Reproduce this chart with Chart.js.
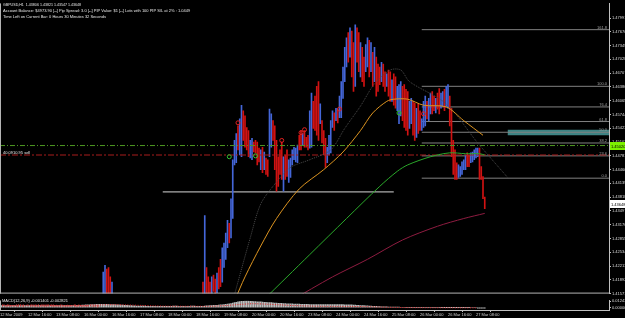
<!DOCTYPE html>
<html>
<head>
<meta charset="utf-8">
<script src="https://cdn.jsdelivr.net/npm/chart.js@4.4.1/dist/chart.umd.min.js"></script>
<style>
  html, body { margin: 0; padding: 0; background: #000; }
  #wrap { position: relative; width: 625px; height: 318px; overflow: hidden; background: #000; }
  #main { position: absolute; left: 0; top: 0; }
  #macd { position: absolute; left: 0; top: 297px; }
</style>
</head>
<body>
<div id="wrap">
  <canvas id="main" width="625" height="297"></canvas>
  <canvas id="macd" width="625" height="21"></canvas>
</div>
<script>
// ---- data ----
const timeLabels = ["12 Mar 2009", "12 Mar 16:00", "13 Mar 08:00", "16 Mar 00:00", "16 Mar 16:00",
  "17 Mar 08:00", "18 Mar 00:00", "18 Mar 16:00", "19 Mar 08:00", "20 Mar 00:00", "20 Mar 16:00",
  "23 Mar 08:00", "24 Mar 00:00", "24 Mar 16:00", "25 Mar 08:00", "26 Mar 00:00", "26 Mar 16:00",
  "27 Mar 08:00"];
const labelStep = 16; // bars between date labels

const priceTicks = [1.41571, 1.41892, 1.42213, 1.42534, 1.42855, 1.43176, 1.43497, 1.43818,
  1.44139, 1.44460, 1.44781, 1.45102, 1.45423, 1.45744, 1.46065, 1.46386, 1.46707, 1.47028,
  1.47349, 1.47670, 1.47991];
const priceMin = 1.41571, priceMax = 1.48332;
const barSlots = 348;

// a few bars of 16 Mar poking up from the bottom
const earlyStart = 59;
const earlyHigh = [1.4207, 1.4223, 1.4214, 1.4218, 1.4196, 1.4184];
const earlyLow  = [1.4120, 1.4130, 1.4140, 1.4135, 1.4140, 1.4145];
const earlyDir  = "uudddu";

// bars from 18 Mar evening to 27 Mar
const mainStart = 116;
const highs = [
  1.4184,1.4339,1.4218,1.4196,1.4184,1.4196,1.4200,1.4191,1.4205,1.4218,
  1.4237,1.4264,1.4275,1.4298,1.4328,1.4321,1.4378,1.4469,1.4514,1.4530,
  1.4548,1.4564,1.4596,1.4583,1.4571,1.4544,1.4537,1.4514,1.4519,1.4510,
  1.4514,1.4510,1.4496,1.4492,1.4498,1.4487,1.4473,1.4469,1.4587,1.4576,
  1.4560,1.4548,1.4514,1.4476,1.4492,1.4510,1.4476,1.4480,1.4492,1.4469,
  1.4473,1.4492,1.4498,1.4496,1.4503,1.4526,1.4537,1.4530,1.4537,1.4521,
  1.4526,1.4583,1.4624,1.4605,1.4617,1.4640,1.4651,1.4599,1.4560,1.4537,
  1.4519,1.4498,1.4526,1.4560,1.4583,1.4578,1.4589,1.4587,1.4617,1.4651,
  1.4685,1.4731,1.4753,1.4765,1.4776,1.4769,1.4742,1.4783,1.4776,1.4765,
  1.4742,1.4731,1.4708,1.4737,1.4753,1.4747,1.4742,1.4719,1.4731,1.4708,
  1.4692,1.4685,1.4696,1.4692,1.4674,1.4669,1.4678,1.4674,1.4655,1.4669,
  1.4662,1.4640,1.4644,1.4651,1.4640,1.4644,1.4633,1.4628,1.4605,1.4612,
  1.4605,1.4601,1.4589,1.4599,1.4583,1.4564,1.4605,1.4617,1.4605,1.4612,
  1.4624,1.4628,1.4617,1.4612,1.4624,1.4635,1.4624,1.4628,1.4633,1.4640,
  1.4644,1.4617,1.4589,1.4514,1.4492,1.4462,1.4457,1.4453,1.4464,1.4469,
  1.4480,1.4485,1.4480,1.4485,1.4487,1.4492,1.4496,1.4496,1.4496,1.4453,
  1.4430,1.4382];
const lows = [
  1.4150,1.4155,1.4155,1.4150,1.4150,1.4155,1.4162,1.4150,1.4159,1.4168,
  1.4173,1.4184,1.4218,1.4237,1.4264,1.4275,1.4287,1.4332,1.4457,1.4462,
  1.4492,1.4480,1.4476,1.4514,1.4498,1.4492,1.4476,1.4473,1.4469,1.4487,
  1.4485,1.4457,1.4464,1.4446,1.4439,1.4446,1.4435,1.4430,1.4476,1.4498,
  1.4514,1.4446,1.4396,1.4407,1.4435,1.4423,1.4396,1.4423,1.4430,1.4416,
  1.4428,1.4457,1.4469,1.4464,1.4462,1.4492,1.4492,1.4503,1.4498,1.4498,
  1.4492,1.4496,1.4498,1.4542,1.4537,1.4526,1.4514,1.4553,1.4508,1.4480,
  1.4451,1.4462,1.4480,1.4485,1.4544,1.4537,1.4560,1.4555,1.4567,1.4567,
  1.4612,1.4651,1.4685,1.4696,1.4708,1.4662,1.4628,1.4640,1.4696,1.4674,
  1.4662,1.4651,1.4640,1.4674,1.4685,1.4662,1.4674,1.4640,1.4651,1.4617,
  1.4628,1.4644,1.4651,1.4640,1.4628,1.4640,1.4617,1.4605,1.4605,1.4596,
  1.4589,1.4583,1.4553,1.4571,1.4560,1.4544,1.4537,1.4526,1.4542,1.4553,
  1.4526,1.4514,1.4521,1.4530,1.4537,1.4537,1.4544,1.4548,1.4564,1.4560,
  1.4576,1.4576,1.4583,1.4578,1.4587,1.4576,1.4589,1.4594,1.4583,1.4594,
  1.4589,1.4548,1.4476,1.4435,1.4423,1.4423,1.4428,1.4430,1.4435,1.4446,
  1.4446,1.4453,1.4453,1.4462,1.4464,1.4469,1.4473,1.4476,1.4423,1.4423,
  1.4378,1.4355];
const barDir =
  "duddduddud" + "duuuuduuuu" + "duudddduud" + "dddududduu" + "dddddduddu" +
  "uuuuuddudd" + "duuddddudd" + "duuuududuu" + "uuududdudd" + "udduududud" +
  "ddudduddud" + "duuudddduu" + "ddudduuudu" + "uddudduudu" + "uddddduuuu" +
  "udduuuuudd" + "dd";

// moving averages (bar index, price)
const maOrangeIdx = [134, 140, 149, 158, 171, 185, 196, 206, 213, 221, 225, 233, 242, 255, 265, 276];
const maOrange = [1.4140, 1.4196, 1.4268, 1.4332, 1.4401, 1.4446, 1.4487, 1.4537, 1.4578, 1.4605,
  1.4610, 1.4610, 1.4596, 1.4592, 1.4560, 1.4526];
const maGreenIdx = [150, 164, 177, 198, 217, 227, 233, 246, 257, 266, 274, 277];
const maGreen = [1.4140, 1.4196, 1.4248, 1.4332, 1.4407, 1.4442, 1.4457, 1.4476, 1.4485, 1.4483,
  1.4483, 1.4480];
const maMaroonIdx = [166, 190, 210, 230, 250, 265, 277];
const maMaroon = [1.4140, 1.4196, 1.4237, 1.4282, 1.4314, 1.4332, 1.4344];
const maGrayIdx = [133, 143, 149, 157, 166, 177, 189, 197, 206, 214, 223, 229, 234, 255, 273, 290];
const maGray = [1.4140, 1.4287, 1.4366, 1.4412, 1.4451, 1.4469, 1.4492, 1.4542, 1.4594, 1.4646,
  1.4678, 1.4678, 1.4651, 1.4599, 1.4508, 1.4428];

// fractal markers
const redMarkIdx = [136, 161, 172, 174, 194, 242];
const redMark = [1.4555, 1.4514, 1.4532, 1.4539, 1.4587, 1.4576];
const greenMarkIdx = [131, 146, 228];
const greenMark = [1.4476, 1.4478, 1.4578];

// horizontal objects
const fibFrom = 241;
const fibNames = ["161.8", "100.0", "76.4", "61.8", "50.0", "38.2", "23.6", "0.0"];
const fibPrices = [1.4772, 1.4640, 1.4592, 1.4558, 1.4533, 1.4508, 1.4478, 1.4426];
const zoneFrom = 290;
const zoneTop = 1.4539, zoneBottom = 1.4526;
const supportFrom = 93, supportTo = 225, supportPrice = 1.4394;
const alertPrice = 1.4502;
const sellPrice = 1.4480;
const bidPrice = 1.43648;

// MACD(12,26,9), in units of 0.0001
const macdHist = [
  38,39,40,41,41,42,42,41,40,40, 41,42,43,43,42,41,40,40,41,42,
  42,43,44,44,43,42,41,41,42,43, 43,42,41,40,40,41,42,42,41,40,
  40,41,42,43,44,45,47,49,51,53, 55,57,59,61,62,63,64,65,65,65,
  64,64,63,62,61,60,58,56,54,52, 50,48,46,44,42,40,38,36,34,33,
  32,31,30,30,29,29,28,28,28,28, 28,28,27,27,28,28,29,29,29,30,
  30,30,29,29,28,28,28,29,29,30, 30,30,29,29,28,28,29,32,36,38,
  40,42,44,46,48,50,53,56,60,64, 69,74,80,88,96,103,109,114,119,122,
  124,124,123,121,119,117,115,113,111,109, 106,104,101,99,97,95,93,90,87,85,
  83,81,79,77,76,75,73,72,70,69, 68,67,66,66,65,64,63,62,61,60,
  60,59,59,58,58,58,58,59,59,60, 60,61,61,60,60,59,58,57,56,55,
  54,53,51,49,47,45,43,41,39,37, 35,33,31,29,27,25,23,21,19,18,
  17,16,15,14,13,12,12,11,11,10, 10,10,9,9,9,8,8,8,8,7,
  7,7,7,6,6,6,6,5,5,5, 5,5,4,4,4,4,3,3,3,3,
  2,2,2,2,2,1,1,1,1,0, 0,0,0,-1,-1,-2,-2,-2];
const signalStep = 8;
const macdSignal = [40, 40, 41, 42, 42, 41, 44, 52, 57, 54, 45, 36, 30, 29, 29, 28, 40, 60, 75, 68,
  55, 42, 33, 28, 26, 25, 22, 15, 8, 4, 2, 1, 0, -1, -1];
const macdTicks = [0.01243, 0];
const macdMin = -0.00414, macdMax = 0.0138;

// ---- build datasets ----
const upColor = "#4466d8", downColor = "#d01212";
const candles = [], candleColors = [];
function addBars(start, hi, lo, dir) {
  hi.forEach((h, k) => {
    candles.push({ x: start + k, y: [lo[k], h] });
    candleColors.push(dir[k] === "u" ? upColor : downColor);
  });
}
addBars(earlyStart, earlyHigh, earlyLow, earlyDir);
addBars(mainStart, highs, lows, barDir);

const pts = (idx, vals) => idx.map((x, k) => ({ x, y: vals[k] }));
const hline = (from, to, p) => [{ x: from, y: p }, { x: to, y: p }];

const line = (data, color, extra) => Object.assign({
  type: "line", data, borderColor: color, borderWidth: 1, pointRadius: 0, tension: 0.3
}, extra || {});
const marks = (data, color) => ({
  type: "line", data, showLine: false, pointRadius: 2, pointBorderWidth: 1,
  pointBorderColor: color, pointBackgroundColor: "rgba(0,0,0,0)"
});

const fibSets = fibPrices.map(p => line(hline(fibFrom, barSlots, p), "#808080", { tension: 0 }));

const tiny = "4px Arial";
const overlay = {
  id: "overlay",
  afterDraw(chart, args, o) {
    const ctx = chart.ctx, a = chart.chartArea, ys = chart.scales.y;
    ctx.save();
    ctx.strokeStyle = "#b4b4b4";
    ctx.lineWidth = 1;
    ctx.beginPath();
    ctx.moveTo(a.left + 0.5, a.top);
    ctx.lineTo(a.left + 0.5, a.bottom);
    if (o.bottomLine) {
      ctx.moveTo(a.left, a.bottom - 0.5);
      ctx.lineTo(a.right, a.bottom - 0.5);
    }
    ctx.stroke();
    ctx.font = tiny;
    (o.texts || []).forEach(t => {
      ctx.fillStyle = t.color || "#e6e6e6";
      ctx.textAlign = "left";
      if (t.w) ctx.fillText(t.text, t.x, t.y, t.w); else ctx.fillText(t.text, t.x, t.y);
    });
    (o.levelTags || []).forEach(t => {
      ctx.fillStyle = "#a0a0a0";
      ctx.textAlign = "right";
      ctx.fillText(t.text, a.right - 2, ys.getPixelForValue(t.price) - 1);
    });
    (o.boxes || []).forEach(b => {
      const py = Math.round(ys.getPixelForValue(b.price));
      ctx.fillStyle = b.bg;
      ctx.fillRect(a.right + 1, py - 4, 16, 8);
      ctx.fillStyle = b.color;
      ctx.textAlign = "left";
      ctx.fillText(b.text, a.right + 2, py + 1.5);
    });
    ctx.restore();
  }
};

new Chart(document.getElementById("main"), {
  type: "bar",
  data: {
    datasets: [
      line(pts(maGreenIdx, maGreen), "#2aa82a"),
      line(pts(maOrangeIdx, maOrange), "#dc9420"),
      line(pts(maMaroonIdx, maMaroon), "#8e1c40"),
      line(pts(maGrayIdx, maGray), "#4a4a4a", { borderDash: [1, 1] }),
      marks(pts(redMarkIdx, redMark), "#e02020"),
      marks(pts(greenMarkIdx, greenMark), "#30c030"),
      line(hline(0, barSlots, alertPrice), "#4e9a22", { borderDash: [5, 2, 1, 2], tension: 0 }),
      line(hline(0, barSlots, sellPrice), "#a81c1c", { borderDash: [6, 2, 2, 2], tension: 0 }),
      { type: "bar", data: candles, backgroundColor: candleColors, barThickness: 1, grouped: false },
      line(hline(supportFrom, supportTo, supportPrice), "#d8d8d8", { tension: 0 }),
      ...fibSets,
      line(hline(zoneFrom, barSlots, zoneTop), "rgba(0,0,0,0)", { tension: 0, fill: "+1", backgroundColor: "#3e8484" }),
      line(hline(zoneFrom, barSlots, zoneBottom), "rgba(0,0,0,0)", { tension: 0 })
    ]
  },
  options: {
    responsive: false,
    animation: false,
    events: [],
    layout: { padding: 0, autoPadding: false },
    plugins: {
      legend: { display: false },
      tooltip: { enabled: false },
      overlay: {
        bottomLine: true,
        texts: [
          { text: "GBPUSD,H1  1.43806 1.43821 1.43547 1.43648", x: 3, y: 5.5, w: 78 },
          { text: "Account Balance: $4973.90 [--] Pip Spread: 3.0 [--] PIP Value: $1 [--] Lots with 100 PIP S/L at 2% : 1.0449", x: 3, y: 11.5, w: 212 },
          { text: "Time Left on Current Bar: 0 Hours 30 Minutes 32 Seconds", x: 3, y: 18, w: 105 },
          { text: "40.0910.95 sell", x: 3, y: 154, w: 28 }
        ],
        levelTags: fibNames.map((n, k) => ({ text: n, price: fibPrices[k] })),
        boxes: [
          { price: alertPrice, text: alertPrice.toFixed(5), bg: "#7cf000", color: "#000" },
          { price: bidPrice, text: bidPrice.toFixed(5), bg: "#ffffff", color: "#000" }
        ]
      }
    },
    scales: {
      x: {
        type: "linear", min: 0, max: barSlots, offset: false, display: false
      },
      y: {
        position: "right", min: priceMin, max: priceMax,
        afterBuildTicks: s => { s.ticks = priceTicks.map(v => ({ value: v })); },
        afterFit: s => { s.width = 16; },
        ticks: { color: "#dcdcdc", font: { size: 4, family: "Arial" }, padding: 1, autoSkip: false,
          callback: v => v.toFixed(5) },
        grid: { drawOnChartArea: false, color: "#c0c0c0", tickLength: 2 },
        border: { color: "#c0c0c0" }
      }
    }
  },
  plugins: [overlay]
});

// ---- MACD sub-window with the time axis ----
new Chart(document.getElementById("macd"), {
  type: "bar",
  data: {
    datasets: [
      line(macdSignal.map((v, k) => ({ x: k * signalStep, y: v / 10000 })), "#e02424",
        { borderDash: [1, 1.5], tension: 0.3 }),
      { type: "bar", data: macdHist.map((v, i) => ({ x: i, y: v / 10000 })),
        backgroundColor: "#bdbdbd", barThickness: 1, grouped: false }
    ]
  },
  options: {
    responsive: false,
    animation: false,
    events: [],
    layout: { padding: 0, autoPadding: false },
    plugins: {
      legend: { display: false },
      tooltip: { enabled: false },
      overlay: {
        texts: [
          { text: "MACD(12,26,9) -0.001401 -0.002821", x: 2, y: 4.5, w: 68 },
          { text: "PriFirm MT4, \u00a9 2004-2008 MetaQuotes Software Corp.", x: 2, y: 9.5, w: 104, color: "#e03a3a" }
        ]
      }
    },
    scales: {
      x: {
        type: "linear", min: 0, max: barSlots, offset: false,
        afterBuildTicks: s => { s.ticks = timeLabels.map((_, k) => ({ value: k * labelStep })); },
        afterFit: s => { s.height = 8; },
        ticks: { color: "#d0d0d0", font: { size: 4, family: "Arial" }, padding: 0, autoSkip: false,
          maxRotation: 0, align: "start", callback: (v, i) => timeLabels[i] },
        grid: { drawOnChartArea: false, color: "#c0c0c0", tickLength: 2 },
        border: { color: "#c0c0c0" }
      },
      y: {
        position: "right", min: macdMin, max: macdMax,
        afterBuildTicks: s => { s.ticks = macdTicks.map(v => ({ value: v })); },
        afterFit: s => { s.width = 16; },
        ticks: { color: "#dcdcdc", font: { size: 4, family: "Arial" }, padding: 1, autoSkip: false,
          callback: v => v.toFixed(5) },
        grid: { drawOnChartArea: false, color: "#c0c0c0", tickLength: 2 },
        border: { color: "#c0c0c0" }
      }
    }
  },
  plugins: [overlay]
});
</script>
</body>
</html>
